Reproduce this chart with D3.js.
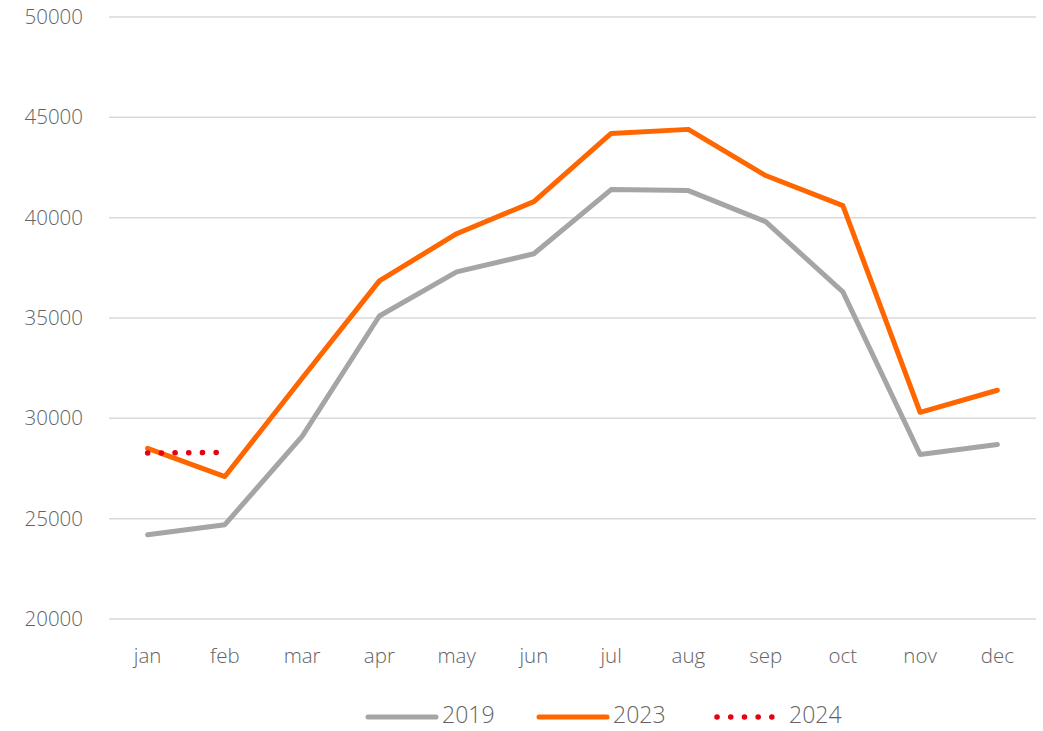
<!DOCTYPE html>
<html>
<head>
<meta charset="utf-8">
<script src="https://cdn.jsdelivr.net/npm/d3@7"></script>
<style>
  body { margin: 0; background: #fff; }
  text { font-family: "Open Sans", "Noto Sans", sans-serif; font-weight: 300; }
</style>
</head>
<body>
<svg id="chart" width="1043" height="731"></svg>
<script>
// chart data
var months = ["jan","feb","mar","apr","may","jun","jul","aug","sep","oct","nov","dec"];
var values2019 = [24200, 24700, 29100, 35100, 37300, 38200, 41400, 41350, 39800, 36300, 28200, 28700];
var values2023 = [28500, 27100, 32000, 36850, 39200, 40800, 44200, 44400, 42100, 40600, 30300, 31400];
var values2024 = [28270, 28300];
var yTicks = [20000, 25000, 30000, 35000, 40000, 45000, 50000];

var series = [
  {name: "2019", values: values2019, color: "#a5a5a5", dash: null},
  {name: "2023", values: values2023, color: "#ff6600", dash: null},
  {name: "2024", values: values2024, color: "#e60012", dash: "0.1 13.6"}
];

var svg = d3.select("#chart"),
    margin = {top: 17, right: 7, bottom: 112, left: 109},
    width = +svg.attr("width") - margin.left - margin.right,
    height = +svg.attr("height") - margin.top - margin.bottom;

var g = svg.append("g").attr("transform", "translate(" + margin.left + "," + margin.top + ")");

var x = d3.scaleBand().domain(months).range([0, width]);
var y = d3.scaleLinear().domain([20000, 50000]).range([height, 0]);

// gridlines
g.append("g")
  .selectAll("line")
  .data(yTicks)
  .enter().append("line")
  .attr("x1", 0).attr("x2", width)
  .attr("y1", function(d) { return y(d); })
  .attr("y2", function(d) { return y(d); })
  .attr("stroke", "#d9d9d9")
  .attr("stroke-width", 1.5);

// y axis
var yAxis = g.append("g")
  .call(d3.axisLeft(y).tickValues(yTicks).tickSize(0).tickPadding(26).tickFormat(d3.format("d")));
yAxis.select(".domain").remove();
yAxis.selectAll("text").style("font-size", "20.5px").attr("fill", "#636363");

// x axis
var xAxis = g.append("g")
  .attr("transform", "translate(0," + height + ")")
  .call(d3.axisBottom(x).tickSize(0).tickPadding(29));
xAxis.select(".domain").remove();
xAxis.selectAll("text").style("font-size", "20.5px").attr("fill", "#636363");

var line = d3.line()
  .x(function(d, i) { return x(months[i]) + x.bandwidth() / 2; })
  .y(function(d) { return y(d); });

series.forEach(function(s) {
  g.append("path")
    .datum(s.values)
    .attr("fill", "none")
    .attr("stroke", s.color)
    .attr("stroke-width", s.dash ? 5.5 : 5)
    .attr("stroke-linecap", "round")
    .attr("stroke-linejoin", "round")
    .attr("stroke-dasharray", s.dash)
    .attr("d", line);
});

// legend
var legendX = [368, 539, 717];
var legend = svg.append("g").attr("transform", "translate(0,717)");
series.forEach(function(s, i) {
  var lg = legend.append("g").attr("transform", "translate(" + legendX[i] + ",0)");
  lg.append("line")
    .attr("x1", 0).attr("x2", s.dash ? 56 : 68)
    .attr("y1", 0).attr("y2", 0)
    .attr("stroke", s.color)
    .attr("stroke-width", s.dash ? 5.5 : 5)
    .attr("stroke-linecap", "round")
    .attr("stroke-dasharray", s.dash);
  lg.append("text")
    .attr("x", s.dash ? 72 : 74)
    .attr("y", 6)
    .attr("fill", "#636363")
    .style("font-size", "23px")
    .text(s.name);
});
</script>
</body>
</html>
